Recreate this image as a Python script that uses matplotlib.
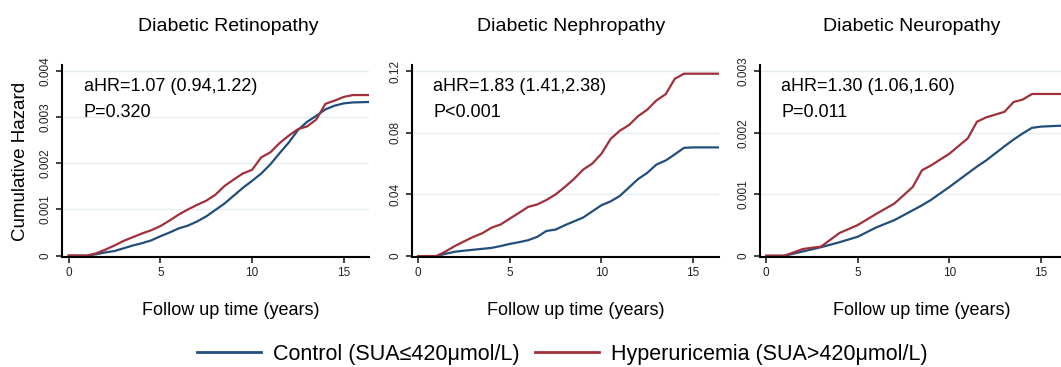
import matplotlib
matplotlib.use('Agg')
import matplotlib.pyplot as plt
from matplotlib.lines import Line2D

plt.rcParams['font.family'] = ['Liberation Sans', 'DejaVu Sans']

# Data (cumulative hazard by follow up year)
years = [0, 0.5, 1, 1.5, 2, 2.5, 3, 3.5, 4, 4.5, 5, 5.5, 6, 6.5, 7, 7.5, 8, 8.5,
         9, 9.5, 10, 10.5, 11, 11.5, 12, 12.5, 13, 13.5, 14, 14.5, 15, 15.5, 16.4]

retino_ctrl = [0, 0, 0, 0.00003, 0.00007, 0.0001, 0.00016, 0.00022, 0.00027, 0.00033,
               0.00042, 0.0005, 0.00059, 0.00065, 0.00074, 0.00085, 0.00099, 0.00113,
               0.0013, 0.00147, 0.00162, 0.00178, 0.00198, 0.00222, 0.00245, 0.00272,
               0.0029, 0.00303, 0.00317, 0.00325, 0.0033, 0.00332, 0.00333]
retino_hyper = [0, 0, 0, 0.00005, 0.00013, 0.00022, 0.00032, 0.0004, 0.00048, 0.00055,
                0.00064, 0.00076, 0.00089, 0.001, 0.0011, 0.00119, 0.00132, 0.00151,
                0.00165, 0.00178, 0.00186, 0.00213, 0.00224, 0.00244, 0.0026, 0.00274,
                0.0028, 0.00295, 0.00329, 0.00336, 0.00344, 0.00348, 0.00348]

nephro_ctrl = [0, 0, 0, 0.0015, 0.0028, 0.0035, 0.0041, 0.0047, 0.0053, 0.0065,
               0.0079, 0.009, 0.0103, 0.0125, 0.0163, 0.0172, 0.02, 0.0225,
               0.025, 0.029, 0.033, 0.0355, 0.039, 0.0445, 0.05, 0.054,
               0.0594, 0.062, 0.066, 0.0702, 0.0705, 0.0705, 0.0705]
nephro_hyper = [0, 0, 0, 0.003, 0.0065, 0.0095, 0.0124, 0.0148, 0.0184, 0.0205,
                0.0243, 0.028, 0.0319, 0.0335, 0.0364, 0.04, 0.0448, 0.05,
                0.0561, 0.06, 0.0664, 0.076, 0.0813, 0.085, 0.0908, 0.095,
                0.101, 0.105, 0.115, 0.1183, 0.1183, 0.1183, 0.1183]

neuro_years = [0, 1, 2, 3, 4, 5, 6, 7, 8, 8.5, 9, 10, 11, 11.5, 12, 13, 13.5,
               14, 14.5, 15, 16.5]
neuro_ctrl = [0, 0, 0.00007, 0.00014, 0.00022, 0.00031, 0.00046, 0.00058, 0.00074,
              0.00082, 0.00091, 0.00112, 0.00134, 0.00145, 0.00155, 0.00178, 0.00189,
              0.00199, 0.00208, 0.0021, 0.00212]
neuro_hyper = [0, 0, 0.00011, 0.00015, 0.00037, 0.0005, 0.00068, 0.00085, 0.00112,
               0.00139, 0.00147, 0.00166, 0.00191, 0.00218, 0.00225, 0.00234, 0.0025,
               0.00254, 0.00263, 0.00263, 0.00263]

titles = ['Diabetic Retinopathy', 'Diabetic Nephropathy', 'Diabetic Neuropathy']
hr_text = ['aHR=1.07 (0.94,1.22)', 'aHR=1.83 (1.41,2.38)', 'aHR=1.30 (1.06,1.60)']
p_text = ['P=0.320', 'P<0.001', 'P=0.011']
yticks = [[0, 0.001, 0.002, 0.003, 0.004], [0, 0.04, 0.08, 0.12], [0, 0.001, 0.002, 0.003]]
yticklabels = [['0', '0.001', '0.002', '0.003', '0.004'], ['0', '0.04', '0.08', '0.12'],
               ['0', '0.001', '0.002', '0.003']]
ylims = [(-0.00003, 0.00413), (-0.0006, 0.1239), (-0.00002, 0.0031)]
x_series = [years, years, neuro_years]
ctrl_series = [retino_ctrl, nephro_ctrl, neuro_ctrl]
hyper_series = [retino_hyper, nephro_hyper, neuro_hyper]

blue = '#234e7c'
red = '#a0303c'

fig = plt.figure(figsize=(10.61, 3.67), dpi=100)
lefts = [0.0587, 0.388, 0.716]
title_x = [0.54, 0.52, 0.495]
xlabel_x = [0.547, 0.534, 0.528]

for i in range(3):
    ax = fig.add_axes([lefts[i], 0.2997, 0.2895, 0.523])
    for y in yticks[i]:
        ax.axhline(y, color='#e4eef0', lw=1, zorder=0)
    ax.plot(x_series[i], ctrl_series[i], color=blue, lw=1.6)
    ax.plot(x_series[i], hyper_series[i], color=red, lw=1.6)
    ax.set_xlim(-0.35, 16.4)
    ax.set_ylim(*ylims[i])
    ax.set_xticks([0, 5, 10, 15])
    ax.set_yticks(yticks[i])
    ax.set_yticklabels(yticklabels[i], rotation=90, va='center')
    ax.tick_params(labelsize=8.5, colors='#222222', length=4, width=1.2)
    for s in ['top', 'right']:
        ax.spines[s].set_visible(False)
    for s in ['left', 'bottom']:
        ax.spines[s].set_linewidth(1.5)
    ax.set_xlabel('Follow up time (years)', fontsize=13)
    ax.xaxis.set_label_coords(xlabel_x[i], -0.235)
    ax.set_title(titles[i], fontsize=14, pad=0, x=title_x[i], y=1.18)
    ax.text(0.07, 0.865, hr_text[i], transform=ax.transAxes, fontsize=13, va='baseline')
    ax.text(0.07, 0.729, p_text[i], transform=ax.transAxes, fontsize=13, va='baseline')
    if i == 0:
        ax.set_ylabel('Cumulative Hazard', fontsize=13.5, labelpad=8)

handles = [Line2D([], [], color=blue, lw=2), Line2D([], [], color=red, lw=2)]
fig.legend(handles, ['Control (SUA≤420μmol/L)', 'Hyperuricemia (SUA>420μmol/L)'],
           loc='center', bbox_to_anchor=(0.53, 0.035), ncol=2, frameon=False,
           fontsize=15.5, handlelength=3, handletextpad=0.55, columnspacing=0.7)

fig.savefig('out.png', dpi=100)
